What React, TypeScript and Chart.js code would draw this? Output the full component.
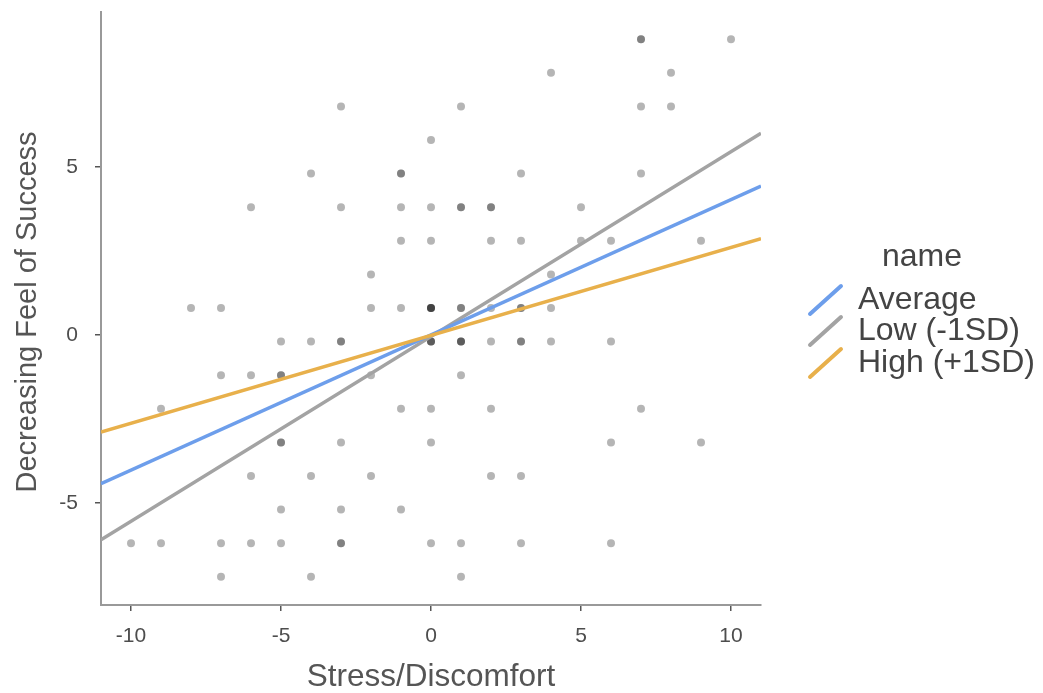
import React, { useEffect, useRef } from "react";
import { Chart, registerables } from "chart.js";

Chart.register(...registerables);

// Scatter data (Stress/Discomfort vs Decreasing Feel of Success); duplicates = overlapping points
const pointsX = [
  7, 7, 10,
  4, 8,
  -3, 1, 7, 8,
  0,
  -4, -1, -1, 3, 7,
  -6, -3, -1, 0, 1, 1, 2, 2, 5,
  -1, 0, 2, 3, 5, 6, 9,
  -2, 4,
  -8, -7, -2, -1, 0, 0, 0, 0, 1, 1, 2, 3, 3, 4,
  -5, -4, -3, -3, 0, 0, 0, 1, 1, 1, 2, 3, 3, 4, 6,
  -7, -6, -5, -5, -2, 1,
  -9, -1, 0, 2, 7,
  -5, -5, -3, 0, 6, 9,
  -6, -4, -2, 2, 3,
  -5, -3, -1,
  -10, -9, -7, -6, -5, -3, -3, 0, 1, 3, 6,
  -7, -4, 1,
];
const pointsY = [
  8.8, 8.8, 8.8,
  7.8, 7.8,
  6.8, 6.8, 6.8, 6.8,
  5.8,
  4.8, 4.8, 4.8, 4.8, 4.8,
  3.8, 3.8, 3.8, 3.8, 3.8, 3.8, 3.8, 3.8, 3.8,
  2.8, 2.8, 2.8, 2.8, 2.8, 2.8, 2.8,
  1.8, 1.8,
  0.8, 0.8, 0.8, 0.8, 0.8, 0.8, 0.8, 0.8, 0.8, 0.8, 0.8, 0.8, 0.8, 0.8,
  -0.2, -0.2, -0.2, -0.2, -0.2, -0.2, -0.2, -0.2, -0.2, -0.2, -0.2, -0.2, -0.2, -0.2, -0.2,
  -1.2, -1.2, -1.2, -1.2, -1.2, -1.2,
  -2.2, -2.2, -2.2, -2.2, -2.2,
  -3.2, -3.2, -3.2, -3.2, -3.2, -3.2,
  -4.2, -4.2, -4.2, -4.2, -4.2,
  -5.2, -5.2, -5.2,
  -6.2, -6.2, -6.2, -6.2, -6.2, -6.2, -6.2, -6.2, -6.2, -6.2, -6.2,
  -7.2, -7.2, -7.2,
];

// Simple slopes lines (endpoints at the x-range limits)
const lineX = [-11, 11];
const averageY = [-4.43, 4.43];
const lowY = [-6.1, 6.0];
const highY = [-2.89, 2.86];

const seriesNames = ["Average", "Low (-1SD)", "High (+1SD)"];
const seriesColors = ["#6d9eeb", "#a3a3a3", "#e8b04b"];
const xTicks = [-10, -5, 0, 5, 10];
const yTicks = [-5, 0, 5];
const xTitle = "Stress/Discomfort";
const yTitle = "Decreasing Feel of Success";
const legendTitle = "name";

const FONT = "'Liberation Sans', Arial, sans-serif";

const overlayPlugin = {
  id: "overlay",
  afterDraw(chart: any) {
    const ctx = chart.ctx as CanvasRenderingContext2D;
    const area = chart.chartArea;
    ctx.save();
    // axis titles
    ctx.fillStyle = "#555555";
    ctx.textAlign = "center";
    ctx.textBaseline = "middle";
    ctx.font = `31.5px ${FONT}`;
    ctx.fillText(xTitle, (area.left + area.right) / 2, 677);
    ctx.font = `29px ${FONT}`;
    ctx.save();
    ctx.translate(28, 312);
    ctx.rotate(-Math.PI / 2);
    ctx.fillText(yTitle, 0, 0);
    ctx.restore();

    // legend
    ctx.fillStyle = "#444444";
    ctx.font = `32px ${FONT}`;
    ctx.textAlign = "center";
    ctx.fillText(legendTitle, 922, 257);
    const ys = [300, 331, 363];
    seriesNames.forEach((name, i) => {
      const cy = ys[i];
      ctx.strokeStyle = seriesColors[i];
      ctx.lineWidth = 4;
      ctx.lineCap = "round";
      ctx.beginPath();
      ctx.moveTo(810, cy + 14);
      ctx.lineTo(841, cy - 14);
      ctx.stroke();
      ctx.fillStyle = "#444444";
      ctx.textAlign = "left";
      ctx.fillText(name, 858, cy);
    });
    ctx.restore();
  },
};

export default function App() {
  const ref = useRef<HTMLCanvasElement | null>(null);
  useEffect(() => {
    if (!ref.current) return;
    const pts = pointsX.map((x, i) => ({ x, y: pointsY[i] }));
    const mk = (ys: number[]) => lineX.map((x, i) => ({ x, y: ys[i] }));
    const chart = new Chart(ref.current, {
      type: "scatter",
      data: {
        datasets: [
          {
            label: seriesNames[2],
            type: "line",
            data: mk(highY),
            borderColor: seriesColors[2],
            borderWidth: 3.5,
            pointRadius: 0,
            fill: false,
            order: 0,
          } as any,
          {
            label: seriesNames[0],
            type: "line",
            data: mk(averageY),
            borderColor: seriesColors[0],
            borderWidth: 3.5,
            pointRadius: 0,
            fill: false,
            order: 1,
          } as any,
          {
            label: seriesNames[1],
            type: "line",
            data: mk(lowY),
            borderColor: seriesColors[1],
            borderWidth: 3.5,
            pointRadius: 0,
            fill: false,
            order: 2,
          } as any,
          {
            label: "points",
            data: pts,
            backgroundColor: "rgba(0,0,0,0.29)",
            borderWidth: 0,
            pointRadius: 4,
            order: 10,
          },
        ],
      },
      options: {
        animation: false,
        responsive: false,
        layout: { padding: { left: 0, right: 282, top: 12, bottom: 0 } },
        plugins: {
          legend: { display: false },
          tooltip: { enabled: false },
        },
        scales: {
          x: {
            type: "linear",
            min: -11,
            max: 11,
            afterBuildTicks: (s: any) => {
              s.ticks = xTicks.map((v) => ({ value: v }));
            },
            afterFit: (s: any) => {
              s.height = 88;
              s.paddingLeft = 0;
              s.paddingRight = 0;
            },
            ticks: {
              font: { size: 21, family: FONT },
              color: "#4d4d4d",
              padding: 13,
              maxRotation: 0,
            },
            grid: {
              drawOnChartArea: false,
              drawTicks: true,
              tickLength: 6,
              color: "#555555",
              lineWidth: 1.5,
            },
            border: { display: true, color: "#999999", width: 2 },
          },
          y: {
            type: "linear",
            min: -8.04,
            max: 9.61,
            afterBuildTicks: (s: any) => {
              s.ticks = yTicks.map((v) => ({ value: v }));
            },
            afterFit: (s: any) => {
              s.width = 101;
              s.paddingTop = 0;
              s.paddingBottom = 0;
            },
            ticks: {
              font: { size: 21, family: FONT },
              color: "#4d4d4d",
              padding: 17,
            },
            grid: {
              drawOnChartArea: false,
              drawTicks: true,
              tickLength: 6,
              color: "#555555",
              lineWidth: 1.5,
            },
            border: { display: true, color: "#999999", width: 2 },
          },
        },
      },
      plugins: [overlayPlugin],
    });
    return () => chart.destroy();
  }, []);
  return (
    <div style={{ position: "absolute", left: 0, top: 0, width: 1043, height: 693, background: "#fff" }}>
      <canvas ref={ref} width={1043} height={693} />
    </div>
  );
}
